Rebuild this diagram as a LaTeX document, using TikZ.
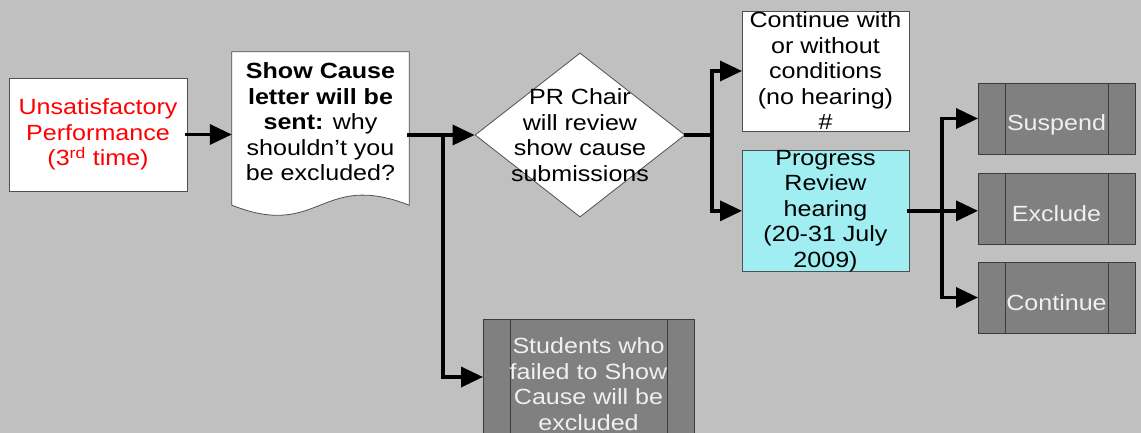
\documentclass[tikz,border=0pt]{standalone}
\usepackage{fontspec}
\setmainfont{Liberation Sans}[FakeStretch=1.14]
\usepackage{tikz}
\usetikzlibrary{positioning}
\usetikzlibrary{shapes.geometric}
\usetikzlibrary{arrows.meta}

\definecolor{bggray}{RGB}{192,192,192}
\definecolor{edge}{RGB}{80,80,80}
\definecolor{darkedge}{RGB}{60,60,60}
\definecolor{hearfill}{RGB}{160,238,242}
\definecolor{procfill}{RGB}{128,128,128}

\begin{document}
\begin{tikzpicture}[
        x = 1pt, y = -1pt,
        txt/.style = {font = \fontsize{22}{25.5}\selectfont, align = center},
        box/.style = {
                draw = edge,
                fill = white,
                line width = 0.8pt,
                inner sep = 0pt,
                outer sep = 0pt,
                minimum width = #1,
                txt
            },
            box/.default = 167pt,
        proc/.style = {
                box = #1,
                fill = procfill,
                draw = darkedge,
                text = white!94!black,
                minimum height = 71pt,
                path picture = {
                    \draw[darkedge, line width = 0.8pt]
                        ([xshift=27pt]path picture bounding box.north west) -- ([xshift=27pt]path picture bounding box.south west)
                        ([xshift=-27pt]path picture bounding box.north east) -- ([xshift=-27pt]path picture bounding box.south east);
                }
            },
            proc/.default = 157pt,
        oneline/.style = {text height = 25pt, text depth = 0pt},
        link/.style = {line width = 3.5pt, line cap = rect},
        arr/.style = {link, -{Triangle[length = 22pt, width = 20pt]}},
        node distance = {19pt}
    ]
        \useasboundingbox (0,0) rectangle (1141,433);
        \fill[bggray] (0,0) rectangle (1141,433);
        \clip (0,0) rectangle (1141,433);

        \node[box = 178pt, minimum height = 113pt, text = red] (perf) at (98,134.5) {Unsatisfactory\\Performance\\(3\textsuperscript{rd} time)};

        % document shape with wavy bottom
        \node[inner sep = 0pt, minimum width = 177pt, minimum height = 153pt] (letter) at (320.5,128.5) {};
        \draw[edge, fill = white, line width = 0.8pt] (letter.north west) -- (letter.north east) -- (letter.south east)
            .. controls +(-89,-35) and +(88,35) .. (letter.south west) -- cycle;
        \node[txt] (lettertext) at ([yshift=6.5pt]letter.center) {\textbf{Show Cause}\\\textbf{letter will be}\\\textbf{sent:} why\\shouldn’t you\\be excluded?};

        \node[diamond, draw = edge, fill = white, line width = 0.8pt, inner sep = 0pt,
            minimum width = 210pt, minimum height = 164pt,
            label = {[txt]center:{PR Chair\\will review\\show cause\\submissions}}] (review) at (580,135) {};

        \node[box, minimum height = 120pt] (cont) at (825.5,71) {Continue with\\or without\\conditions\\(no hearing)\\\#};
        \node[box, minimum height = 120pt, fill = hearfill, below = of cont] (hearing) {Progress\\Review\\hearing\\(20-31 July\\2009)};

        \node[proc, oneline] (suspend) at (1056.5,118.5) {Suspend};
        \node[proc, oneline, below = of suspend] (exclude) {Exclude};
        \node[proc, oneline, below = 18pt of exclude] (contin) {Continue};

        \node[proc = 211pt, minimum height = 130pt] (failed) at (588.5,384) {Students who\\failed to Show\\Cause will be\\excluded};

        \coordinate (fork1) at (443,135);
        \coordinate (fork2) at (712,135);
        \coordinate (fork3) at (942,210);

        \draw[arr] (perf.east) -- (perf.east -| letter.west);
        \draw[arr] (letter.east |- review.west) -- (review.west);
        \draw[arr] (fork1) |- ([yshift=7pt]failed.west);

        \draw[link] (review.east) -- (fork2);
        \draw[arr] (fork2) |- (cont.west);
        \draw[arr] (fork2) |- (hearing.west);

        \draw[arr] (hearing.east) -- (hearing.east -| exclude.west);
        \draw[arr] (fork3) |- (suspend.west);
        \draw[arr] (fork3) |- (contin.west);

    \end{tikzpicture}
\end{document}
